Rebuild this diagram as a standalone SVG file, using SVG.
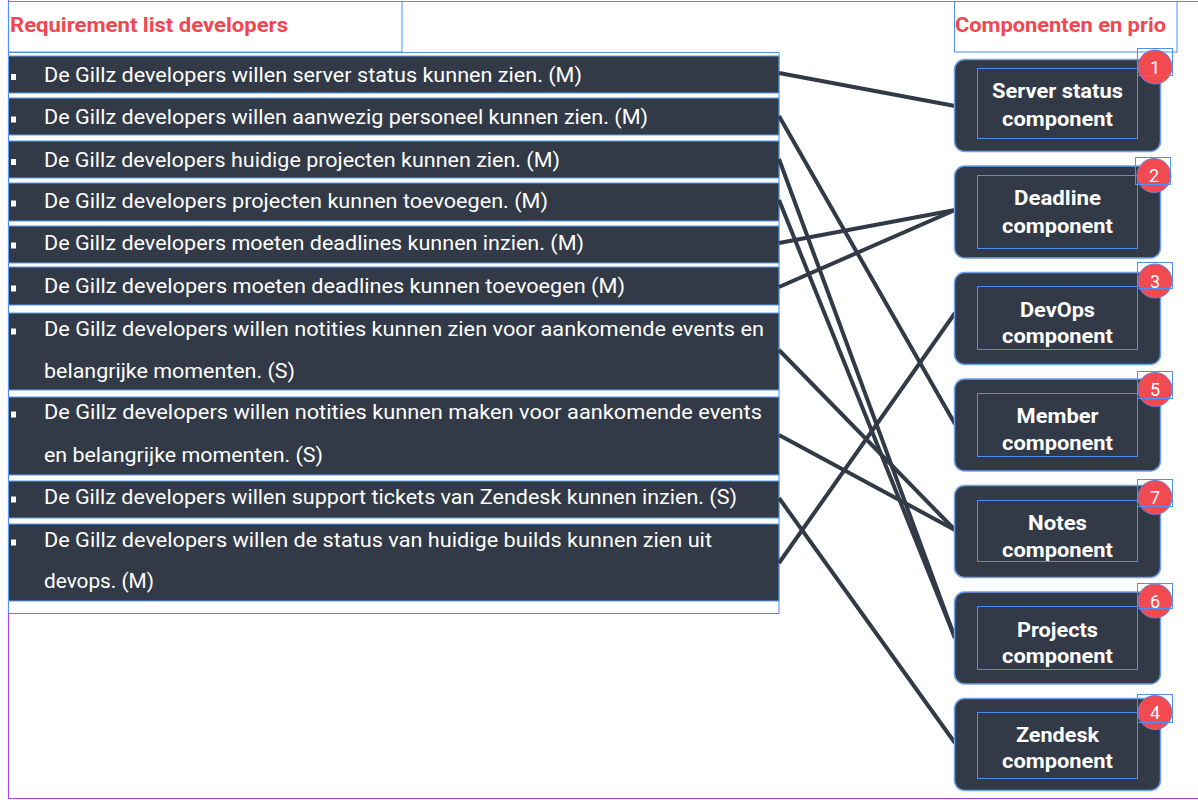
<svg xmlns="http://www.w3.org/2000/svg" width="1198" height="800" viewBox="0 0 1198 800">
<style>
.row{fill:#323a47;stroke:#5b9cf5;stroke-width:1}
.bul{fill:#ffffff}
.rt{font-family:Roboto,"Noto Sans","Liberation Sans",sans-serif;font-size:20px;fill:#ffffff}
.hd{font-family:Roboto,"Noto Sans","Liberation Sans",sans-serif;font-size:21px;font-weight:bold;fill:#f2474f}
.box{fill:#323a47;stroke:#6ea1ee;stroke-width:1.5}
.inner{fill:none;stroke:#4f8ff7;stroke-width:1}
.ct{font-family:Roboto,"Noto Sans","Liberation Sans",sans-serif;font-size:21px;font-weight:bold;fill:#ffffff;text-anchor:middle}
.badge{fill:#f24a51;stroke:#6f7fd8;stroke-width:1}
.bt{font-family:Roboto,"Noto Sans","Liberation Sans",sans-serif;font-size:18px;fill:#ffffff;text-anchor:middle}
.sel{fill:none;stroke:#4f8ff7;stroke-width:1}
.conn{stroke:#323a47;stroke-width:4;fill:none;stroke-linecap:butt}
</style>
<rect width="1198" height="800" fill="#ffffff"/>
<path d="M8.5,0 V798.5 H1198" fill="none" stroke="#a446f0" stroke-width="1.2"/>
<line x1="8" y1="1.5" x2="1198" y2="1.5" stroke="#4f8ff7" stroke-width="1"/>

<g id="header-left">
<rect class="sel" x="8.5" y="1.5" width="393.5" height="50.5"/>
<text class="hd" x="10" y="31.5" textLength="278" lengthAdjust="spacingAndGlyphs">Requirement list developers</text>
</g>
<g id="header-right">
<rect class="sel" x="954.5" y="1.5" width="222.5" height="50.5"/>
<text class="hd" x="955" y="31.5" textLength="211" lengthAdjust="spacingAndGlyphs">Componenten en prio</text>
</g>

<g id="requirement-list">
<rect class="sel" x="8.5" y="52.5" width="770.5" height="561"/>
</g>
<g id="req-1"><rect class="row" x="8.5" y="56" width="770.5" height="37"/><rect class="bul" x="11" y="74" width="5" height="6"/><text class="rt" x="44" y="81.5" textLength="538" lengthAdjust="spacingAndGlyphs">De Gillz developers willen server status kunnen zien. (M)</text></g>
<g id="req-2"><rect class="row" x="8.5" y="98" width="770.5" height="37"/><rect class="bul" x="11" y="116.5" width="5" height="6"/><text class="rt" x="44" y="124" textLength="604" lengthAdjust="spacingAndGlyphs">De Gillz developers willen aanwezig personeel kunnen zien. (M)</text></g>
<g id="req-3"><rect class="row" x="8.5" y="141" width="770.5" height="37"/><rect class="bul" x="11" y="159" width="5" height="6"/><text class="rt" x="44" y="166.5" textLength="516" lengthAdjust="spacingAndGlyphs">De Gillz developers huidige projecten kunnen zien. (M)</text></g>
<g id="req-4"><rect class="row" x="8.5" y="183" width="770.5" height="38"/><rect class="bul" x="11" y="200.5" width="5" height="6"/><text class="rt" x="44" y="208" textLength="504" lengthAdjust="spacingAndGlyphs">De Gillz developers projecten kunnen toevoegen. (M)</text></g>
<g id="req-5"><rect class="row" x="8.5" y="226" width="770.5" height="37"/><rect class="bul" x="11" y="242.5" width="5" height="6"/><text class="rt" x="44" y="250" textLength="540" lengthAdjust="spacingAndGlyphs">De Gillz developers moeten deadlines kunnen inzien. (M)</text></g>
<g id="req-6"><rect class="row" x="8.5" y="267" width="770.5" height="38"/><rect class="bul" x="11" y="285.5" width="5" height="6"/><text class="rt" x="44" y="293" textLength="581" lengthAdjust="spacingAndGlyphs">De Gillz developers moeten deadlines kunnen toevoegen (M)</text></g>
<g id="req-7"><rect class="row" x="8.5" y="313" width="770.5" height="77"/><rect class="bul" x="11" y="328.5" width="5" height="6"/><text class="rt" x="44" y="336" textLength="720" lengthAdjust="spacingAndGlyphs">De Gillz developers willen notities kunnen zien voor aankomende events en</text><text class="rt" x="44" y="378" textLength="251" lengthAdjust="spacingAndGlyphs">belangrijke momenten. (S)</text></g>
<g id="req-8"><rect class="row" x="8.5" y="397" width="770.5" height="78"/><rect class="bul" x="11" y="411.5" width="5" height="6"/><text class="rt" x="44" y="419" textLength="718" lengthAdjust="spacingAndGlyphs">De Gillz developers willen notities kunnen maken voor aankomende events</text><text class="rt" x="44" y="462" textLength="279" lengthAdjust="spacingAndGlyphs">en belangrijke momenten. (S)</text></g>
<g id="req-9"><rect class="row" x="8.5" y="481" width="770.5" height="37"/><rect class="bul" x="11" y="496.5" width="5" height="6"/><text class="rt" x="44" y="504" textLength="693" lengthAdjust="spacingAndGlyphs">De Gillz developers willen support tickets van Zendesk kunnen inzien. (S)</text></g>
<g id="req-10"><rect class="row" x="8.5" y="524" width="770.5" height="77"/><rect class="bul" x="11" y="539.5" width="5" height="6"/><text class="rt" x="44" y="547" textLength="668" lengthAdjust="spacingAndGlyphs">De Gillz developers willen de status van huidige builds kunnen zien uit</text><text class="rt" x="44" y="588" textLength="110" lengthAdjust="spacingAndGlyphs">devops. (M)</text></g>

<g id="connectors">
<line class="conn" x1="779" y1="73" x2="955" y2="106"/>
<line class="conn" x1="779" y1="116" x2="955" y2="424"/>
<line class="conn" x1="779" y1="159" x2="955" y2="638"/>
<line class="conn" x1="779" y1="200" x2="955" y2="638"/>
<line class="conn" x1="779" y1="243" x2="955" y2="210"/>
<line class="conn" x1="779" y1="287" x2="955" y2="210"/>
<line class="conn" x1="779" y1="350" x2="955" y2="530"/>
<line class="conn" x1="779" y1="435" x2="955" y2="530"/>
<line class="conn" x1="779" y1="498" x2="955" y2="743"/>
<line class="conn" x1="779" y1="563" x2="955" y2="313"/>
</g>

<g id="comp-server">
<rect class="box" x="954.5" y="59.5" width="206" height="92" rx="10"/>
<rect class="inner" x="977.5" y="68.5" width="160" height="70"/>
<text class="ct" x="1057.5" y="98" textLength="131" lengthAdjust="spacingAndGlyphs">Server status</text>
<text class="ct" x="1057.5" y="126" textLength="111" lengthAdjust="spacingAndGlyphs">component</text>
<circle class="badge" cx="1155" cy="67" r="17"/>
<rect class="sel" x="1137.5" y="48.5" width="35" height="27"/>
<text class="bt" x="1155" y="73.5">1</text>
</g>
<g id="comp-deadline">
<rect class="box" x="954.5" y="166" width="206" height="92" rx="10"/>
<rect class="inner" x="977.5" y="175.5" width="160" height="73"/>
<text class="ct" x="1057.5" y="205" textLength="87" lengthAdjust="spacingAndGlyphs">Deadline</text>
<text class="ct" x="1057.5" y="233" textLength="111" lengthAdjust="spacingAndGlyphs">component</text>
<circle class="badge" cx="1154" cy="175.5" r="17"/>
<rect class="sel" x="1135.5" y="157.5" width="35" height="27"/>
<text class="bt" x="1154" y="182">2</text>
</g>
<g id="comp-devops">
<rect class="box" x="954.5" y="272.5" width="206" height="92" rx="10"/>
<rect class="inner" x="977.5" y="286.5" width="160" height="63"/>
<text class="ct" x="1057.5" y="316.5" textLength="75" lengthAdjust="spacingAndGlyphs">DevOps</text>
<text class="ct" x="1057.5" y="342.5" textLength="111" lengthAdjust="spacingAndGlyphs">component</text>
<circle class="badge" cx="1155" cy="281" r="17"/>
<rect class="sel" x="1137.5" y="262.5" width="35" height="26"/>
<text class="bt" x="1155" y="287.5">3</text>
</g>
<g id="comp-member">
<rect class="box" x="954.5" y="379" width="206" height="92" rx="10"/>
<rect class="inner" x="977.5" y="393.5" width="160" height="63"/>
<text class="ct" x="1057.5" y="422.5" textLength="82" lengthAdjust="spacingAndGlyphs">Member</text>
<text class="ct" x="1057.5" y="449.5" textLength="111" lengthAdjust="spacingAndGlyphs">component</text>
<circle class="badge" cx="1155" cy="389.5" r="17"/>
<rect class="sel" x="1137.5" y="371.5" width="35" height="27"/>
<text class="bt" x="1155" y="396">5</text>
</g>
<g id="comp-notes">
<rect class="box" x="954.5" y="485.5" width="206" height="92" rx="10"/>
<rect class="inner" x="977.5" y="500.5" width="160" height="61"/>
<text class="ct" x="1057.5" y="530" textLength="59" lengthAdjust="spacingAndGlyphs">Notes</text>
<text class="ct" x="1057.5" y="557" textLength="111" lengthAdjust="spacingAndGlyphs">component</text>
<circle class="badge" cx="1155" cy="497.5" r="17"/>
<rect class="sel" x="1137.5" y="479.5" width="35" height="27"/>
<text class="bt" x="1155" y="504">7</text>
</g>
<g id="comp-projects">
<rect class="box" x="954.5" y="592" width="206" height="92" rx="10"/>
<rect class="inner" x="977.5" y="606.5" width="160" height="63"/>
<text class="ct" x="1057.5" y="637" textLength="81" lengthAdjust="spacingAndGlyphs">Projects</text>
<text class="ct" x="1057.5" y="663" textLength="111" lengthAdjust="spacingAndGlyphs">component</text>
<circle class="badge" cx="1155" cy="601" r="17"/>
<rect class="sel" x="1137.5" y="583.5" width="35" height="25"/>
<text class="bt" x="1155" y="607.5">6</text>
</g>
<g id="comp-zendesk">
<rect class="box" x="954.5" y="698.5" width="206" height="92" rx="10"/>
<rect class="inner" x="977.5" y="712.5" width="160" height="66"/>
<text class="ct" x="1057.5" y="742" textLength="83" lengthAdjust="spacingAndGlyphs">Zendesk</text>
<text class="ct" x="1057.5" y="768" textLength="111" lengthAdjust="spacingAndGlyphs">component</text>
<circle class="badge" cx="1155" cy="712.5" r="17"/>
<rect class="sel" x="1137.5" y="694.5" width="35" height="28"/>
<text class="bt" x="1155" y="719">4</text>
</g>
</svg>
